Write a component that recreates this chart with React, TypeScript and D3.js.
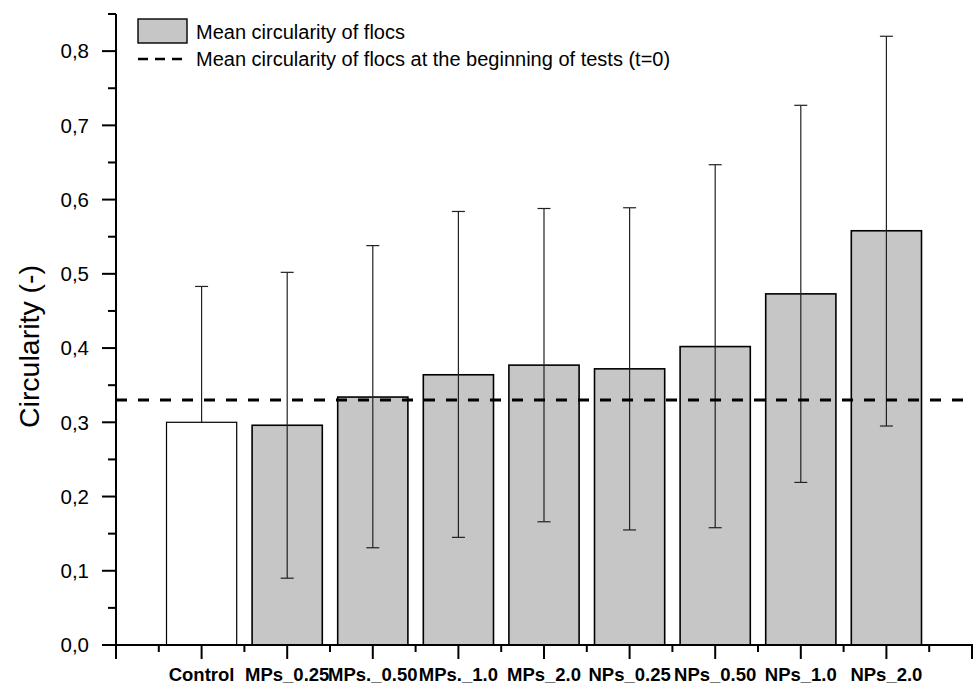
import React from "react";
import * as d3 from "d3";

const categories = [
  "Control",
  "MPs_0.25",
  "MPs._0.50",
  "MPs._1.0",
  "MPs_2.0",
  "NPs_0.25",
  "NPs_0.50",
  "NPs_1.0",
  "NPs_2.0",
];
const meanCircularity = [0.3, 0.296, 0.334, 0.364, 0.377, 0.372, 0.402, 0.473, 0.558];
const upperError = [0.483, 0.502, 0.538, 0.584, 0.588, 0.589, 0.647, 0.727, 0.82];
const lowerError = [0.3, 0.09, 0.131, 0.145, 0.166, 0.155, 0.158, 0.219, 0.295];
const initialCircularity = 0.33;
const yTicks = [0, 0.1, 0.2, 0.3, 0.4, 0.5, 0.6, 0.7, 0.8];
const legendLabels = [
  "Mean circularity of flocs",
  "Mean circularity of flocs at the beginning of tests (t=0)",
];

const W = 976;
const H = 684;
const font = "'Liberation Sans', Arial, sans-serif";

const App = () => {
  // x in category-index units, axis runs half a slot past each end
  const x = d3.scaleLinear().domain([-1, categories.length]).range([116, 972]);
  const y = d3.scaleLinear().domain([0, 0.85]).range([645, 14]);
  const barW = (x(1) - x(0)) * 0.82;
  const capW = 13;

  const majorX = d3.range(-1, categories.length + 1);
  const minorX = d3.range(-0.5, categories.length, 1);
  const minorY = d3.range(0.05, 0.86, 0.1);
  const fmt = (v: number) => v.toFixed(1).replace(".", ",");

  return (
    <svg
      width={W}
      height={H}
      style={{ position: "absolute", left: 0, top: 0, background: "#fff" }}
      fontFamily={font}
    >
      {/* bars */}
      {categories.map((c, i) => (
        <rect
          key={c}
          x={x(i) - barW / 2}
          y={y(meanCircularity[i])}
          width={barW}
          height={y(0) - y(meanCircularity[i])}
          fill={i === 0 ? "#ffffff" : "#c6c6c6"}
          stroke="#000"
          strokeWidth={i === 0 ? 1.2 : 1.6}
        />
      ))}

      {/* error bars */}
      {categories.map((c, i) => (
        <g key={"e" + c} stroke="#222" strokeWidth={1.2}>
          <line x1={x(i)} x2={x(i)} y1={y(upperError[i])} y2={y(lowerError[i])} />
          <line x1={x(i) - capW / 2} x2={x(i) + capW / 2} y1={y(upperError[i])} y2={y(upperError[i])} />
          {lowerError[i] < meanCircularity[i] && (
            <line x1={x(i) - capW / 2} x2={x(i) + capW / 2} y1={y(lowerError[i])} y2={y(lowerError[i])} />
          )}
        </g>
      ))}

      {/* reference line t=0 */}
      <line
        x1={116}
        x2={966}
        y1={y(initialCircularity)}
        y2={y(initialCircularity)}
        stroke="#000"
        strokeWidth={2.8}
        strokeDasharray="11,11"
      />

      {/* y axis */}
      <line x1={116} x2={116} y1={y(0.85)} y2={y(0) + 14} stroke="#000" strokeWidth={2} />
      {yTicks.map((t) => (
        <g key={"yt" + t}>
          <line x1={102} x2={116} y1={y(t)} y2={y(t)} stroke="#000" strokeWidth={2} />
          <text x={89} y={y(t)} dy="0.36em" textAnchor="end" fontSize={20.5}>
            {fmt(t)}
          </text>
        </g>
      ))}
      {minorY.map((t) => (
        <line key={"ym" + t} x1={108} x2={116} y1={y(t)} y2={y(t)} stroke="#000" strokeWidth={2} />
      ))}
      <text
        transform={`translate(39,${(y(0) + y(0.85)) / 2 + 17}) rotate(-90)`}
        textAnchor="middle"
        fontSize={28.5}
      >
        Circularity (-)
      </text>

      {/* x axis */}
      <line x1={115} x2={973} y1={645} y2={645} stroke="#000" strokeWidth={2} />
      {majorX.map((t) => (
        <line key={"xt" + t} x1={x(t)} x2={x(t)} y1={645} y2={659} stroke="#000" strokeWidth={2} />
      ))}
      {minorX.map((t) => (
        <line key={"xm" + t} x1={x(t)} x2={x(t)} y1={645} y2={652} stroke="#000" strokeWidth={2} />
      ))}
      {categories.map((c, i) => (
        <text key={"xl" + c} x={x(i)} y={681} textAnchor="middle" fontSize={18.5} fontWeight="bold">
          {c}
        </text>
      ))}

      {/* legend */}
      <rect x={138} y={19} width={49} height={24} fill="#c6c6c6" stroke="#000" strokeWidth={1.4} />
      <text x={196} y={39} fontSize={20}>
        {legendLabels[0]}
      </text>
      <line x1={138} x2={188} y1={59} y2={59} stroke="#000" strokeWidth={2.5} strokeDasharray="10,7" />
      <text x={196} y={66} fontSize={20}>
        {legendLabels[1]}
      </text>
    </svg>
  );
};

export default App;
